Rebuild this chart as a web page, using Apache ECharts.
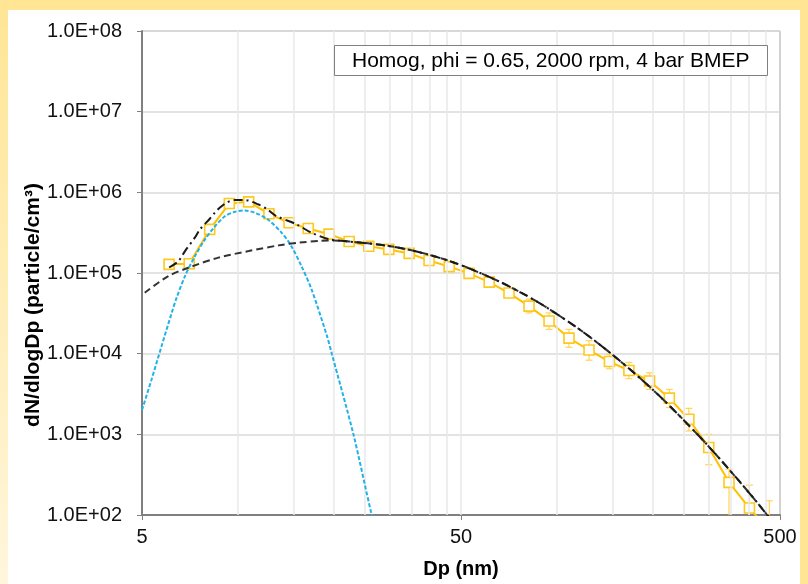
<!DOCTYPE html>
<html>
<head>
<meta charset="utf-8">
<script src="https://cdn.jsdelivr.net/npm/echarts@6/dist/echarts.min.js"></script>
<style>
html,body{margin:0;padding:0;background:#fff;}
#chart{width:808px;height:584px;}
</style>
</head>
<body>
<div id="chart"></div>
<script>
// ---- Data ----
const annotationText = 'Homog, phi = 0.65, 2000 rpm, 4 bar BMEP';
const xTickValues = [5, 50, 500];
const xGridValues = [10, 15, 20, 25, 30, 35, 40, 45, 50, 100, 150, 200, 250, 300, 350, 400, 450];

// measured size distribution (Dp in nm, dN/dlogDp)
const dpData = [6.08, 7.03, 8.15, 9.39, 10.8, 12.5, 14.45, 16.6, 19.3, 22.3, 25.7, 29.7, 34.4, 39.7, 45.9, 53.0,
  61.3, 70.7, 81.7, 94.4, 109, 126, 146, 168, 195, 225, 259, 299, 346, 401, 463];
const nData = [1.28e5, 1.30e5, 3.47e5, 7.26e5, 7.62e5, 5.42e5, 4.19e5, 3.56e5, 3.03e5, 2.46e5, 2.15e5, 1.96e5, 1.75e5, 1.43e5, 1.20e5, 9.9e4,
  7.71e4, 5.64e4, 3.89e4, 2.54e4, 1.56e4, 1.11e4, 7.98e3, 6.18e3, 4.59e3, 2.81e3, 1.54e3, 688, 254, 122, 63];
const errHigh = [1.36e5, 1.38e5, 3.65e5, 7.6e5, 8.0e5, 5.7e5, 4.4e5, 3.75e5, 3.2e5, 2.6e5, 2.27e5, 2.07e5, 1.85e5, 1.52e5, 1.28e5, 1.05e5,
  8.3e4, 6.3e4, 4.75e4, 3.2e4, 2.0e4, 1.45e4, 9.8e3, 7.8e3, 5.8e3, 3.6e3, 2.1e3, 1.0e3, 370, 235, 150];
const errLow = [1.20e5, 1.22e5, 3.3e5, 6.9e5, 7.2e5, 5.15e5, 4.0e5, 3.38e5, 2.88e5, 2.33e5, 2.04e5, 1.86e5, 1.66e5, 1.35e5, 1.13e5, 9.4e4,
  7.2e4, 5.05e4, 3.2e4, 2.0e4, 1.2e4, 8.3e3, 6.5e3, 4.9e3, 3.6e3, 2.15e3, 1.1e3, 420, 60, 40, 20];

// nucleation mode fit (blue dashed)
const nucDp = [5.0, 5.36, 5.76, 6.20, 6.42, 6.82, 7.33, 7.88, 8.47, 9.10, 9.78, 10.5, 11.3, 12.4, 13.7, 14.7, 15.8, 17.0, 19.0, 19.7, 23.0, 26.2, 27.0];
const nucN = [2.0e3, 4.82e3, 1.245e4, 3.23e4, 4.94e4, 9.16e4, 1.62e5, 2.61e5, 3.80e5, 5.06e5, 5.74e5, 5.96e5, 5.57e5, 4.61e5, 3.15e5, 2.15e5, 1.22e5, 6.27e4, 1.66e4, 9.83e3, 1.0e3, 103, 70];

// accumulation mode fit (black dashed)
const accDp = [5.1, 6.05, 6.98, 8.67, 10.8, 13.4, 15.6, 18.1, 20.0, 22.4, 25.9, 30.0, 34.6, 40.0, 46.2, 53.4, 66.3, 76.5, 88.4,
  102, 118, 136, 158, 182, 210, 243, 281, 324, 375, 433, 482];
const accN = [5.7e4, 9.16e4, 1.16e5, 1.55e5, 1.87e5, 2.20e5, 2.38e5, 2.50e5, 2.53e5, 2.45e5, 2.32e5, 2.15e5, 1.93e5, 1.67e5, 1.40e5, 1.13e5, 7.76e4, 5.81e4, 4.21e4,
  2.93e4, 1.98e4, 1.30e4, 8.05e3, 4.98e3, 2.96e3, 1.67e3, 920, 495, 255, 129, 75];

// total fit (black dash-dot)
const totDp = [6.08, 6.50, 6.82, 7.33, 7.60, 8.17, 8.47, 8.78, 9.22, 9.78, 10.5, 11.6, 12.3, 13.1, 15.3, 17.0, 19.4, 22.4, 25.9, 30.0, 34.6, 40.0, 46.2, 53.4,
  66.3, 76.5, 88.4, 102, 118, 136, 158, 182, 210, 243, 281, 324, 375, 433, 482];
const totN = [1.17e5, 1.40e5, 1.87e5, 2.76e5, 3.47e5, 4.74e5, 5.62e5, 6.49e5, 7.48e5, 8.03e5, 8.03e5, 7.06e5, 6.25e5, 5.16e5, 3.99e5, 3.15e5, 2.61e5, 2.45e5, 2.32e5, 2.15e5, 1.93e5, 1.67e5, 1.40e5, 1.13e5,
  7.76e4, 5.81e4, 4.21e4, 2.93e4, 1.98e4, 1.30e4, 8.05e3, 4.98e3, 2.96e3, 1.67e3, 920, 495, 255, 129, 75];

// ---- Build ----
const zip = (a, b) => a.map((v, i) => [v, b[i]]);
const FONT = 'Liberation Sans, Arial, sans-serif';
const chart = echarts.init(document.getElementById('chart'), null, {renderer: 'canvas'});

const option = {
  animation: false,
  backgroundColor: '#FFE594',
  graphic: [
    {type: 'rect', z: -10, silent: true, shape: {x: 0, y: 0, width: 8, height: 584},
      style: {fill: new echarts.graphic.LinearGradient(0, 0, 0, 1, [{offset: 0, color: '#FFE594'}, {offset: 1, color: '#FFF6DC'}])}},
    {type: 'rect', z: -10, silent: true, shape: {x: 8, y: 10, width: 792, height: 574}, style: {fill: '#ffffff'}}
  ],
  title: {
    text: annotationText,
    left: 334, top: 45,
    padding: [4, 18, 3, 18],
    borderColor: '#7f7f7f', borderWidth: 1, backgroundColor: '#ffffff',
    textStyle: {fontSize: 21, fontWeight: 'normal', color: '#000', fontFamily: FONT, lineHeight: 24}
  },
  grid: {left: 142, top: 31, right: 28, bottom: 68, show: true, borderColor: '#a6a6a6', borderWidth: 1, backgroundColor: 'transparent'},
  xAxis: {
    type: 'log', logBase: 10, min: 5, max: 500,
    axisLine: {show: true, onZero: false, lineStyle: {color: '#808080', width: 2}},
    axisTick: {show: true, customValues: xTickValues, length: 5, lineStyle: {color: '#808080', width: 1}},
    axisLabel: {customValues: xTickValues, fontSize: 20, color: '#111', margin: 12, fontFamily: FONT},
    splitLine: {show: false},
    name: 'Dp (nm)', nameLocation: 'middle', nameGap: 44, nameMoveOverlap: false,
    nameTextStyle: {fontSize: 20, fontWeight: 'bold', color: '#000', fontFamily: FONT}
  },
  yAxis: {
    type: 'log', logBase: 10, min: 100, max: 1e8,
    axisLine: {show: true, onZero: false, lineStyle: {color: '#808080', width: 2}},
    axisTick: {show: true, length: 5, lineStyle: {color: '#808080', width: 1}},
    axisLabel: {fontSize: 20, color: '#111', margin: 20, fontFamily: FONT,
      formatter: v => { const e = Math.round(Math.log10(v)); return '1.0E+' + (e < 10 ? '0' : '') + e; }},
    splitLine: {show: true, lineStyle: {color: '#dadada', width: 1.5}},
    name: 'dN/dlogDp (particle/cm³)', nameLocation: 'middle', nameGap: 98, nameRotate: 90, nameMoveOverlap: false,
    nameTextStyle: {fontSize: 21, fontWeight: 'bold', color: '#000', fontFamily: FONT, padding: [0, 64, 0, 0]}
  },
  series: [
    {
      name: 'grid', type: 'line', data: [], z: 1, silent: true,
      markLine: {
        silent: true, symbol: ['none', 'none'], label: {show: false}, animation: false,
        lineStyle: {color: '#e9e9e9', width: 1.5, type: 'solid'},
        emphasis: {disabled: true},
        data: xGridValues.map(v => ({xAxis: v}))
      }
    },
    {
      name: 'error', type: 'custom', z: 3, silent: true,
      data: dpData.map((d, i) => [d, errLow[i], errHigh[i]]),
      encode: {x: 0, y: [1, 2]},
      renderItem: function (params, api) {
        const cs = params.coordSys;
        const top = cs.y, bottom = cs.y + cs.height;
        const hi = api.coord([api.value(0), api.value(2)]);
        const lo = api.coord([api.value(0), api.value(1)]);
        const x = hi[0];
        const y1 = Math.max(top, Math.min(bottom, hi[1]));
        const y2 = Math.max(top, Math.min(bottom, lo[1]));
        const style = {stroke: '#FFD45A', lineWidth: 1.2};
        const children = [{type: 'line', shape: {x1: x, y1: y1, x2: x, y2: y2}, style: style}];
        if (hi[1] >= top && hi[1] <= bottom) children.push({type: 'line', shape: {x1: x - 3.5, y1: hi[1], x2: x + 3.5, y2: hi[1]}, style: style});
        if (lo[1] >= top && lo[1] <= bottom) children.push({type: 'line', shape: {x1: x - 3.5, y1: lo[1], x2: x + 3.5, y2: lo[1]}, style: style});
        return {type: 'group', children: children};
      }
    },
    {
      name: 'Measured', type: 'line', z: 4, data: zip(dpData, nData),
      symbol: 'rect', symbolSize: 10, showAllSymbol: true,
      itemStyle: {color: '#ffffff', borderColor: '#FFC81E', borderWidth: 1.6},
      lineStyle: {color: '#FFC000', width: 2}
    },
    {
      name: 'Nucleation', type: 'line', z: 5, data: zip(nucDp, nucN), smooth: 0.3,
      symbol: 'none', lineStyle: {color: '#22B2E8', width: 2, type: [4, 2]}
    },
    {
      name: 'Accumulation', type: 'line', z: 5, data: zip(accDp, accN), smooth: 0.3,
      symbol: 'none', lineStyle: {color: '#333333', width: 2, type: [7, 4]}
    },
    {
      name: 'Total', type: 'line', z: 6, data: zip(totDp, totN), smooth: 0.3,
      symbol: 'none', lineStyle: {color: '#1a1a1a', width: 2, type: [9, 4, 2, 4]}
    }
  ]
};
chart.setOption(option);
</script>
</body>
</html>
